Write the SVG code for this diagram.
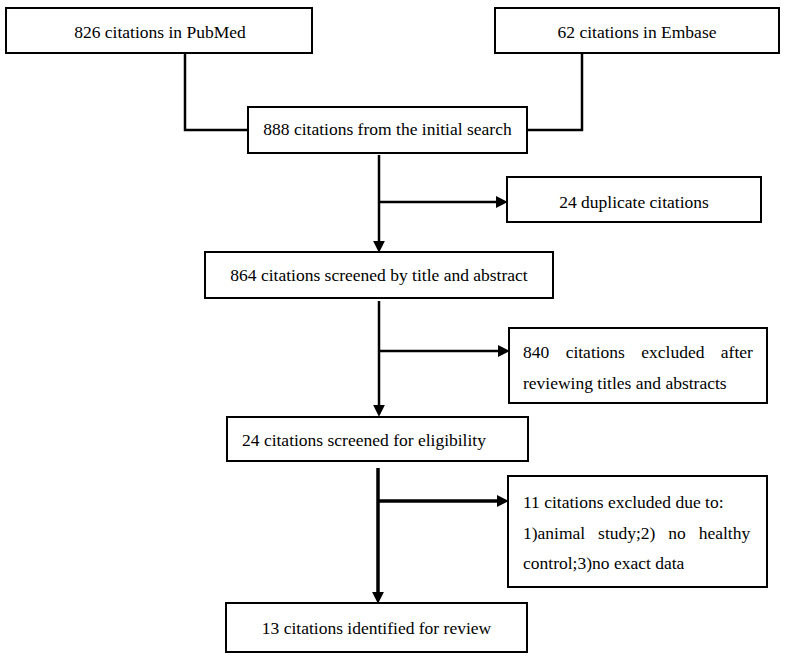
<svg xmlns="http://www.w3.org/2000/svg" width="787" height="659" viewBox="0 0 787 659">
<style>
.box{fill:#fff;stroke:#000;stroke-width:2}
.t{font-family:"Liberation Serif","Times New Roman",serif;font-size:17.5px;fill:#000}
.c{text-anchor:middle}
.ln{fill:none;stroke:#000;stroke-width:2.5}
.thick{stroke-width:3.5}
</style>
<defs>
<marker id="ah" viewBox="0 0 10 10" refX="6" refY="5" markerWidth="12" markerHeight="12" markerUnits="userSpaceOnUse" orient="auto">
<path d="M0,0 L10,5 L0,10 z" fill="#000"/>
</marker>
</defs>
<rect width="787" height="659" fill="#fff"/>
<g id="connectors">
<path class="ln" d="M185,53 V130 H248"/>
<path class="ln" d="M582,53 V130 H527"/>
<path class="ln" d="M379,155 V248" marker-end="url(#ah)"/>
<path class="ln" d="M379,202 H503" marker-end="url(#ah)"/>
<path class="ln" d="M379,301 V412" marker-end="url(#ah)"/>
<path class="ln" d="M379,351 H505" marker-end="url(#ah)"/>
<path class="ln thick" d="M378,468 V599" marker-end="url(#ah)"/>
<path class="ln thick" d="M378,501 H504" marker-end="url(#ah)"/>
</g>
<g id="pubmed">
<rect class="box" x="6" y="8" width="306" height="45"/>
<text class="t c" x="160" y="38">826 citations in PubMed</text>
</g>
<g id="embase">
<rect class="box" x="495" y="8" width="284" height="45"/>
<text class="t c" x="637" y="38">62 citations in Embase</text>
</g>
<g id="initial">
<rect class="box" x="248" y="107" width="279" height="46"/>
<text class="t c" x="387.5" y="135">888 citations from the initial search</text>
</g>
<g id="duplicates">
<rect class="box" x="507" y="177" width="254" height="45"/>
<text class="t c" x="634" y="208">24 duplicate citations</text>
</g>
<g id="screened">
<rect class="box" x="205" y="252" width="348" height="46"/>
<text class="t c" x="379" y="281">864 citations screened by title and abstract</text>
</g>
<g id="excluded1">
<rect class="box" x="509" y="328" width="258" height="75"/>
<text class="t" x="523" y="358" word-spacing="12">840 citations excluded after</text>
<text class="t" x="523" y="389">reviewing titles and abstracts</text>
</g>
<g id="eligibility">
<rect class="box" x="227" y="417" width="301" height="44"/>
<text class="t" x="242" y="446">24 citations screened for eligibility</text>
</g>
<g id="excluded2">
<rect class="box" x="508" y="476" width="259" height="111"/>
<text class="t" x="523" y="508">11 citations excluded due to:</text>
<text class="t" x="523" y="539" word-spacing="8.5">1)animal study;2) no healthy</text>
<text class="t" x="523" y="569">control;3)no exact data</text>
</g>
<g id="review">
<rect class="box" x="226" y="603" width="301" height="49"/>
<text class="t c" x="376.5" y="634">13 citations identified for review</text>
</g>
</svg>
